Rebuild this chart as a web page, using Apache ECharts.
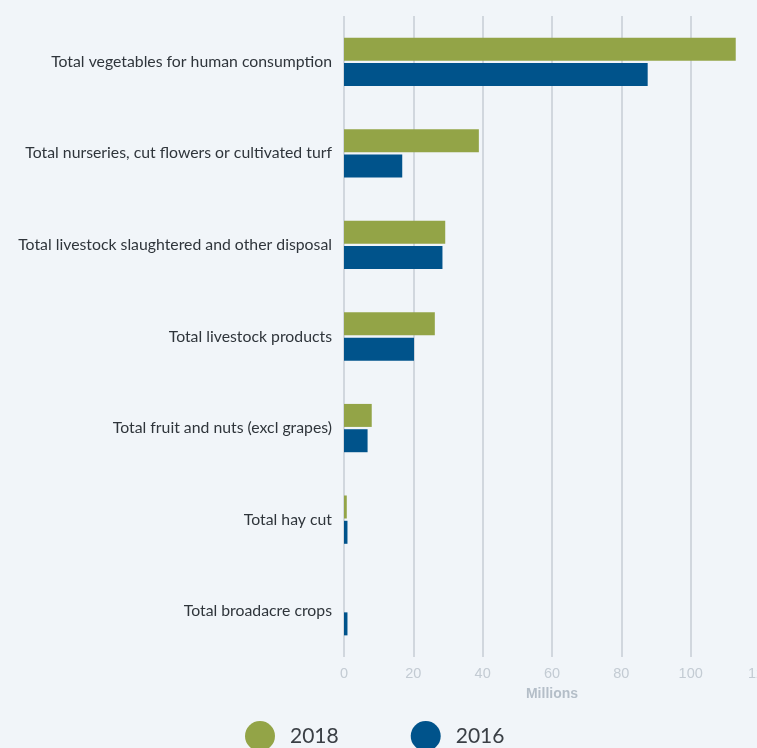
<!DOCTYPE html>
<html>
<head>
<meta charset="utf-8">
<script src="https://cdn.jsdelivr.net/npm/echarts@6/dist/echarts.min.js"></script>
<style>
  html, body { margin: 0; padding: 0; background: #f1f5f9; }
  #chart { width: 757px; height: 748px; }
</style>
</head>
<body>
<div id="chart"></div>
<script>
const categories = [
  'Total vegetables for human consumption',
  'Total nurseries, cut flowers or cultivated turf',
  'Total livestock slaughtered and other disposal',
  'Total livestock products',
  'Total fruit and nuts (excl grapes)',
  'Total hay cut',
  'Total broadacre crops'
]
const values2018 = [113, 38.9, 29.2, 26.2, 8.0, 0.8, 0]
const values2016 = [87.6, 16.8, 28.4, 20.2, 6.8, 1.0, 1.0]

const chart = echarts.init(document.getElementById('chart'))
chart.setOption({
  backgroundColor: '#f1f5f9',
  animation: false,
  grid: { left: 344, right: -3, top: 16, bottom: 91, outerBoundsMode: 'none' },
  legend: {
    left: 245,
    top: 721,
    padding: 0,
    icon: 'circle',
    itemWidth: 30,
    itemHeight: 30,
    itemGap: 72,
    textStyle: { fontFamily: 'Lato', fontSize: 21, color: '#3a3f45', padding: [6, 0, 0, 10] },
    data: ['2018', '2016']
  },
  xAxis: {
    type: 'value',
    min: 0,
    max: 120,
    interval: 20,
    name: 'Millions',
    nameLocation: 'middle',
    nameGap: 30,
    nameTextStyle: { color: '#b4bec8', fontFamily: 'Liberation Sans', fontSize: 14, fontWeight: 'bold' },
    axisLine: { show: false },
    axisTick: { show: false },
    axisLabel: { color: '#c3cbd3', fontFamily: 'Liberation Sans', fontSize: 14.5, margin: 9 },
    splitLine: { lineStyle: { color: '#c6cdd5', width: 1.5 } }
  },
  yAxis: {
    type: 'category',
    inverse: true,
    data: categories,
    axisLine: { show: false },
    axisTick: { show: false },
    axisLabel: { color: '#2f353b', fontFamily: 'Lato', fontSize: 15.8, margin: 12 }
  },
  series: [
    {
      name: '2018',
      type: 'bar',
      data: values2018,
      barWidth: 23,
      barGap: '10%',
      itemStyle: { color: '#93a447' }
    },
    {
      name: '2016',
      type: 'bar',
      data: values2016,
      barWidth: 23,
      itemStyle: { color: '#00538b' }
    }
  ]
})
</script>
</body>
</html>
